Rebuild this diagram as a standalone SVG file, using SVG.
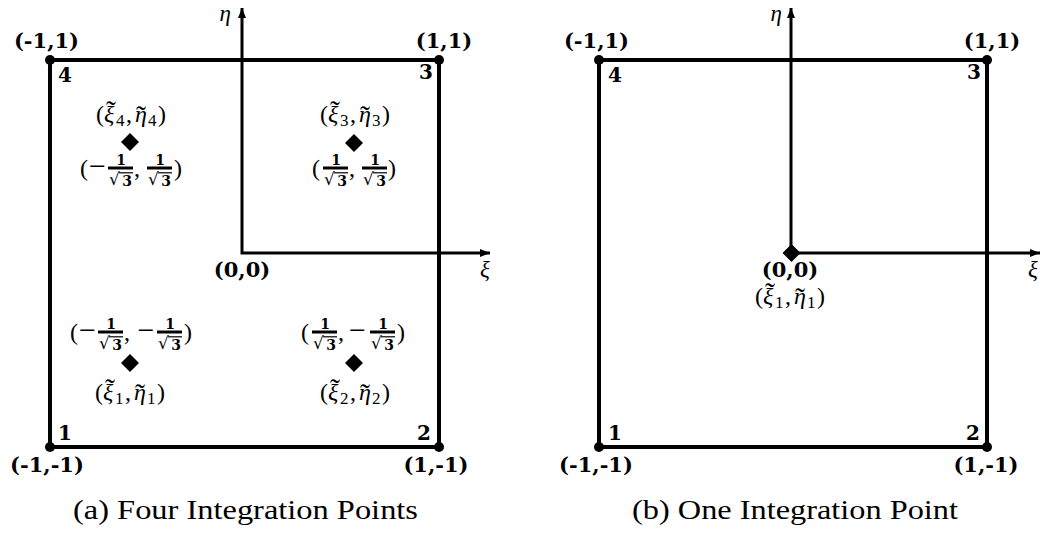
<svg xmlns="http://www.w3.org/2000/svg" xmlns:xlink="http://www.w3.org/1999/xlink" width="1046" height="533" viewBox="0 0 1046 533">
<style>
.sq{fill:none;stroke:#000;stroke-width:4}
.ax{fill:none;stroke:#000;stroke-width:3}
.b{font-family:"DejaVu Serif","Liberation Serif",serif;font-weight:bold;font-size:21px;fill:#000}
.bn{font-family:"DejaVu Serif","Liberation Serif",serif;font-weight:bold;font-size:20px;fill:#000}
.m{font-family:"Liberation Serif","DejaVu Serif",serif;font-size:24px;fill:#000}
.mn{font-family:"Liberation Serif","DejaVu Serif",serif;font-size:30px;fill:#000;text-anchor:middle}
.t{font-family:"Liberation Serif","DejaVu Serif",serif;font-size:30px;fill:#000;text-anchor:middle}
.ax-l{font-family:"Liberation Serif","DejaVu Serif",serif;font-size:23px;font-style:italic;fill:#000}
.i{font-style:italic}
.s{font-family:"Liberation Serif","DejaVu Serif",serif;font-size:17px;fill:#000}
.fn{font-family:"DejaVu Serif","Liberation Serif",serif;font-weight:bold;font-size:14px;text-anchor:middle}
.rt{font-family:"DejaVu Sans",sans-serif;font-size:17px}
.cap{font-family:"Liberation Serif","DejaVu Serif",serif;font-size:27px;fill:#000;text-anchor:middle}
.mid{text-anchor:middle}
.end{text-anchor:end}
</style>
<defs>
<marker id="arr" markerUnits="userSpaceOnUse" markerWidth="12" markerHeight="10" refX="10" refY="5" orient="auto-start-reverse">
<path d="M0,1 L10,5 L0,9 Z" fill="#000"/>
</marker>
<polygon id="dia" points="0,-9 9,0 0,9 -9,0" fill="#000"/>
<g id="fr">
<line x1="0" y1="0" x2="25" y2="0" stroke="#000" stroke-width="3"/>
<text x="13" y="-3" class="fn">1</text>
<text x="1" y="17" class="rt">√</text>
<line x1="11" y1="4.8" x2="25" y2="4.8" stroke="#000" stroke-width="1.2"/>
<text x="19" y="17.5" class="fn">3</text>
</g>
<g id="lab">
<text class="m" x="-35" y="0">(</text>
<text class="m i" x="-27" y="0">ξ</text>
<text class="t" x="-20" y="-1">˜</text>
<text class="m" x="-5" y="0">,</text>
<text class="m i" x="4" y="0">η</text>
<text class="t" x="10" y="4">˜</text>
<text class="m" x="27" y="0">)</text>
</g>
</defs>

<g id="connectors">
<path class="ax" d="M242,8 V253 H490" marker-start="url(#arr)" marker-end="url(#arr)"/>
<path class="ax" d="M791,8 V253 H1040" marker-start="url(#arr)" marker-end="url(#arr)"/>
</g>

<g id="elementA">
<rect class="sq" x="50" y="60" width="389" height="387"/>
<circle cx="50" cy="60" r="5"/><circle cx="439" cy="60" r="5"/>
<circle cx="50" cy="447" r="5"/><circle cx="439" cy="447" r="5"/>
<text class="b mid" x="46.5" y="48">(-1,1)</text>
<text class="b mid" x="444" y="48">(1,1)</text>
<text class="b mid" x="47" y="472">(-1,-1)</text>
<text class="b mid" x="436" y="472">(1,-1)</text>
<text class="bn" x="58" y="82">4</text>
<text class="bn end" x="433" y="79">3</text>
<text class="bn" x="58" y="440">1</text>
<text class="bn end" x="431" y="440">2</text>
<text class="ax-l" x="231" y="21" text-anchor="end">η</text>
<text class="ax-l" x="480" y="277">ξ</text>
<text class="b mid" x="242" y="277">(0,0)</text>
</g>

<g id="pointA4">
<use xlink:href="#dia" x="130" y="142"/>
<use xlink:href="#lab" x="131" y="122"/>
<text class="s" x="116" y="126">4</text>
<text class="s" x="148" y="126">4</text>
<text class="m" x="80" y="176">(</text>
<text class="mn" x="97.5" y="176">−</text>
<use xlink:href="#fr" x="108" y="168"/>
<text class="m" x="134" y="176">,</text>
<use xlink:href="#fr" x="147" y="168"/>
<text class="m" x="174" y="176">)</text>
</g>

<g id="pointA3">
<use xlink:href="#dia" x="354" y="143"/>
<use xlink:href="#lab" x="355" y="122"/>
<text class="s" x="340" y="126">3</text>
<text class="s" x="372" y="126">3</text>
<text class="m" x="312" y="176">(</text>
<use xlink:href="#fr" x="323" y="168"/>
<text class="m" x="349" y="176">,</text>
<use xlink:href="#fr" x="362" y="168"/>
<text class="m" x="388" y="176">)</text>
</g>

<g id="pointA1">
<use xlink:href="#dia" x="130" y="363"/>
<text class="m" x="70" y="340">(</text>
<text class="mn" x="87.5" y="340">−</text>
<use xlink:href="#fr" x="98" y="332"/>
<text class="m" x="124" y="340">,</text>
<text class="mn" x="146" y="340">−</text>
<use xlink:href="#fr" x="157" y="332"/>
<text class="m" x="184" y="340">)</text>
<use xlink:href="#lab" x="130" y="400"/>
<text class="s" x="115" y="404">1</text>
<text class="s" x="147" y="404">1</text>
</g>

<g id="pointA2">
<use xlink:href="#dia" x="354" y="363"/>
<text class="m" x="301" y="340">(</text>
<use xlink:href="#fr" x="312" y="332"/>
<text class="m" x="338" y="340">,</text>
<text class="mn" x="357.5" y="340">−</text>
<use xlink:href="#fr" x="370" y="332"/>
<text class="m" x="397" y="340">)</text>
<use xlink:href="#lab" x="355" y="400"/>
<text class="s" x="340" y="404">2</text>
<text class="s" x="372" y="404">2</text>
</g>

<g id="elementB">
<rect class="sq" x="599" y="60" width="388" height="387"/>
<circle cx="599" cy="60" r="5"/><circle cx="987" cy="60" r="5"/>
<circle cx="599" cy="447" r="5"/><circle cx="987" cy="447" r="5"/>
<text class="b mid" x="596.5" y="48">(-1,1)</text>
<text class="b mid" x="992" y="48">(1,1)</text>
<text class="b mid" x="596" y="472">(-1,-1)</text>
<text class="b mid" x="986" y="472">(1,-1)</text>
<text class="bn" x="608" y="82">4</text>
<text class="bn end" x="981" y="79">3</text>
<text class="bn" x="608" y="440">1</text>
<text class="bn end" x="980" y="440">2</text>
<text class="ax-l" x="782" y="21" text-anchor="end">η</text>
<text class="ax-l" x="1028" y="277">ξ</text>
<text class="b mid" x="790" y="277">(0,0)</text>
</g>

<g id="pointB1">
<use xlink:href="#dia" x="791.5" y="253"/>
<use xlink:href="#lab" x="790" y="304"/>
<text class="s" x="775" y="308">1</text>
<text class="s" x="807" y="308">1</text>
</g>

<g id="captions">
<text class="cap" x="245.5" y="519" textLength="345" lengthAdjust="spacingAndGlyphs">(a) Four Integration Points</text>
<text class="cap" x="795" y="519" textLength="326" lengthAdjust="spacingAndGlyphs">(b) One Integration Point</text>
</g>
</svg>
